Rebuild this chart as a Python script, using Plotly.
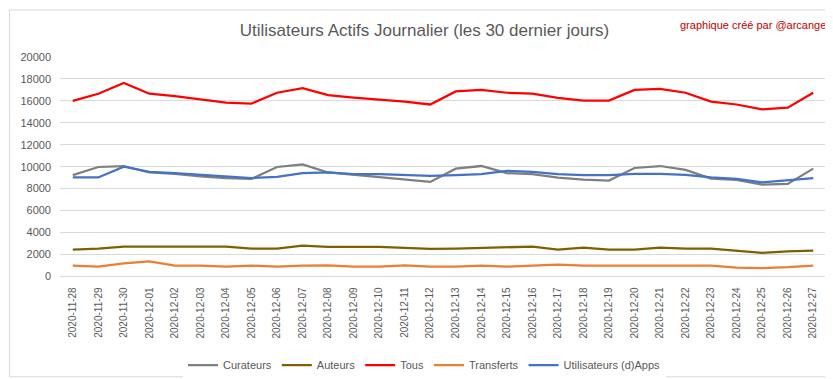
import plotly.graph_objects as go

dates = ["2020-11-28", "2020-11-29", "2020-11-30", "2020-12-01", "2020-12-02", "2020-12-03",
         "2020-12-04", "2020-12-05", "2020-12-06", "2020-12-07", "2020-12-08", "2020-12-09",
         "2020-12-10", "2020-12-11", "2020-12-12", "2020-12-13", "2020-12-14", "2020-12-15",
         "2020-12-16", "2020-12-17", "2020-12-18", "2020-12-19", "2020-12-20", "2020-12-21",
         "2020-12-22", "2020-12-23", "2020-12-24", "2020-12-25", "2020-12-26", "2020-12-27"]

curateurs = [9230, 9970, 10060, 9470, 9350, 9110, 8960, 8880, 9970, 10200, 9470, 9260,
             9080, 8820, 8610, 9820, 10060, 9410, 9320, 9000, 8820, 8730, 9880, 10060,
             9700, 8910, 8790, 8370, 8430, 9820]
auteurs = [2440, 2530, 2710, 2710, 2710, 2710, 2710, 2530, 2530, 2800, 2680, 2680,
           2680, 2590, 2500, 2530, 2590, 2680, 2710, 2440, 2620, 2440, 2440, 2620,
           2530, 2530, 2330, 2150, 2270, 2350]
tous = [16000, 16650, 17630, 16650, 16440, 16150, 15850, 15760, 16740, 17150, 16530, 16300,
        16150, 15940, 15670, 16860, 17000, 16740, 16650, 16270, 16030, 16030, 17000, 17100,
        16740, 15940, 15670, 15230, 15380, 16740]
transferts = [980, 890, 1180, 1360, 980, 980, 890, 980, 890, 980, 1000, 890,
              890, 1000, 890, 890, 980, 890, 980, 1070, 980, 980, 980, 980,
              980, 980, 800, 740, 830, 980]
apps = [9020, 9020, 10000, 9530, 9410, 9260, 9110, 8960, 9080, 9410, 9470, 9320,
        9320, 9230, 9170, 9230, 9320, 9620, 9530, 9320, 9230, 9230, 9350, 9350,
        9260, 9020, 8880, 8580, 8790, 8960]

series = [
    ("Curateurs", curateurs, "#7f7f7f"),
    ("Auteurs", auteurs, "#7f6000"),
    ("Tous", tous, "#ff0000"),
    ("Transferts", transferts, "#ed7d31"),
    ("Utilisateurs (d)Apps", apps, "#4472c4"),
]

W, H = 833, 379
ML, MR, MT, MB = 51, 15, 49, 104

fig = go.Figure()
for name, vals, col in series:
    fig.add_trace(go.Scatter(x=dates, y=vals, name=name, mode="lines",
                             line=dict(color=col, width=2.25)))

pw = W - ML - MR
ph = H - MT - MB

fig.update_layout(
    width=W, height=H,
    margin=dict(l=ML, r=MR, t=MT, b=MB),
    paper_bgcolor="white", plot_bgcolor="white",
    font=dict(family="Liberation Sans, Arial, sans-serif", color="#595959"),
    title=dict(text="Utilisateurs Actifs Journalier (les 30 dernier jours)",
               x=0.5, xanchor="center", xref="container",
               y=1 - 22 / H, yanchor="middle", yref="container",
               font=dict(size=17, color="#595959", family="Liberation Sans, sans-serif")),
    xaxis=dict(type="category", range=[-0.5, len(dates) - 0.5],
               showgrid=False, showline=False, zeroline=False,
               tickangle=-90, tickfont=dict(size=10, color="#595959"),
               ticks="", ticklabelstandoff=8, fixedrange=True),
    yaxis=dict(range=[0, 20000], dtick=2000, tickformat="d", showgrid=True, gridcolor="#d9d9d9",
               gridwidth=1, zeroline=True, zerolinecolor="#d9d9d9", zerolinewidth=1,
               showline=False, tickfont=dict(size=11, color="#595959"),
               ticks="", ticklabelstandoff=8, fixedrange=True),
    legend=dict(orientation="h", xref="container", x=0.5, xanchor="center",
                yref="container", y=1 - 357 / H, yanchor="middle",
                font=dict(size=11, color="#595959"), itemwidth=30),
    showlegend=True,
)

fig.add_annotation(text="graphique créé par @arcange", xref="paper", yref="paper",
                   x=(820 - ML) / pw, y=1 + (MT - 16) / ph, xanchor="right", yanchor="middle",
                   showarrow=False,
                   font=dict(size=11, color="#c00000", family="Liberation Sans, sans-serif"))

fig.add_shape(type="rect", xref="paper", yref="paper",
              x0=(-ML + 0.5) / pw, x1=(W - ML - 0.5) / pw,
              y0=(-MB + 0.5) / ph, y1=1 + (MT - 0.5) / ph,
              line=dict(color="#d9d9d9", width=1), layer="below")

fig.write_html("out.html")
